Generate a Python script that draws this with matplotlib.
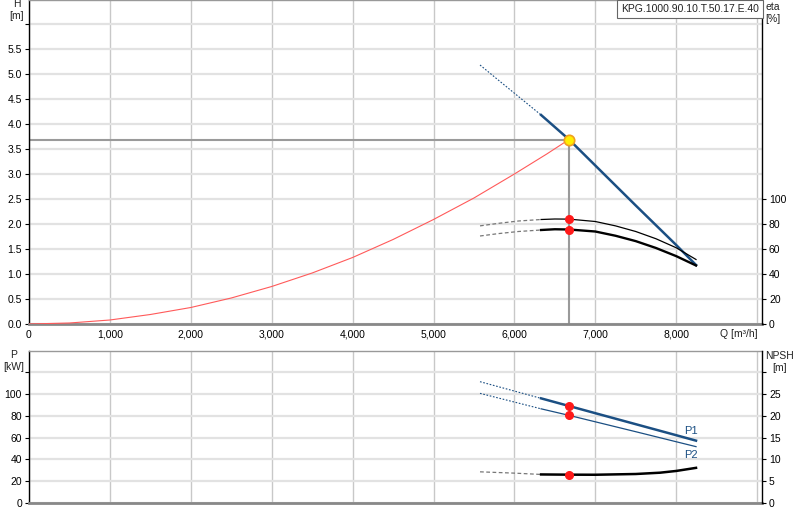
import numpy as np
import matplotlib
matplotlib.use('Agg')
import matplotlib.pyplot as plt

plt.rcParams['font.family'] = ['Liberation Sans', 'DejaVu Sans']

# duty point
q_duty = 6675
h_duty = 3.69

# system curve (red)
q_sys = [0, 500, 1000, 1500, 2000, 2500, 3000, 3500, 4000, 4500, 5000, 5500, 6000, 6400, 6675]
h_sys = [0, 0.02, 0.08, 0.19, 0.33, 0.52, 0.75, 1.02, 1.33, 1.69, 2.09, 2.52, 3.00, 3.40, 3.69]

# pump curve H, dashed part and operating part
q_dash = [5575, 5800, 6050, 6330]
h_dash = [5.18, 4.88, 4.55, 4.18]
q_op = [6330, 6675, 7000, 7500, 8000, 8245]
h_op = [4.18, 3.69, 3.17, 2.37, 1.58, 1.18]

# efficiency curves [%]
q_eta_dash = [5575, 5800, 6050, 6330]
eta1_dash = [78.5, 80.5, 82.4, 83.6]
eta2_dash = [70.4, 72.3, 74.0, 75.2]
q_eta_op = [6330, 6500, 6675, 7000, 7250, 7500, 7750, 8000, 8245]
eta1_op = [83.6, 84.0, 83.9, 82.0, 78.5, 74.0, 68.2, 61.0, 51.6]
eta2_op = [75.2, 75.8, 75.6, 74.0, 70.6, 66.3, 60.8, 54.3, 46.8]
eta1_duty = 83.9
eta2_duty = 75.6

# power [kW] and NPSH [m]
q_p_dash = [5575, 6330]
p1_dash = [111.3, 96.0]
p2_dash = [100.6, 86.4]
q_p_op = [6330, 6675, 7000, 7500, 8000, 8245]
p1_op = [96.0, 89.0, 82.4, 72.3, 62.2, 57.2]
p2_op = [86.4, 80.4, 74.5, 65.4, 56.2, 51.7]
p1_duty = 89.0
p2_duty = 80.4

q_npsh_dash = [5575, 6000, 6330]
npsh_dash = [7.15, 6.85, 6.55]
q_npsh_op = [6330, 6675, 7000, 7500, 7800, 8000, 8245]
npsh_op = [6.55, 6.50, 6.48, 6.65, 6.95, 7.35, 8.06]
npsh_duty = 6.5

x_ticks = [0, 1000, 2000, 3000, 4000, 5000, 6000, 7000, 8000, 9000]
x_labels = ['0', '1,000', '2,000', '3,000', '4,000', '5,000', '6,000', '7,000', '8,000', '']
h_ticks = [0, 0.5, 1.0, 1.5, 2.0, 2.5, 3.0, 3.5, 4.0, 4.5, 5.0, 5.5, 6.0]
eta_ticks = [0, 20, 40, 60, 80, 100]
p_ticks = [0, 20, 40, 60, 80, 100, 120]
npsh_ticks = [0, 5, 10, 15, 20, 25, 30]

blue = '#1b4f83'
W, H = 800, 520
fig = plt.figure(figsize=(8, 5.2), dpi=100)

x0, x1 = 29, 762
ax = fig.add_axes([x0 / W, (H - 324) / H, (x1 - x0) / W, 324 / H])
axb = fig.add_axes([x0 / W, (H - 503) / H, (x1 - x0) / W, (503 - 351) / H])
xmax = (x1 - x0) / 80.9 * 1000
h_max = 324 / 50.0
p_max = (503 - 351) / 1.09

def style(a, ymax, ticks, labels):
    a.set_xlim(0, xmax)
    a.set_ylim(0, ymax)
    a.set_xticks(x_ticks)
    a.set_yticks(ticks)
    a.set_yticklabels(labels)
    a.grid(axis='x', color='#c8c8c8', lw=1.0, zorder=0)
    a.grid(axis='y', color='#e2e2e2', lw=1.6, zorder=0)
    a.set_axisbelow(True)
    a.tick_params(axis='x', length=0, labelsize=7.5, pad=4)
    a.tick_params(axis='y', direction='out', length=3, width=0.8, labelsize=7.5, pad=2)
    a.spines['left'].set_color('black')
    a.spines['left'].set_linewidth(1.0)
    a.spines['bottom'].set_color('#888888')
    a.spines['bottom'].set_linewidth(2.0)
    a.spines['top'].set_color('#999999')
    a.spines['top'].set_linewidth(1.0)
    a.spines['right'].set_visible(False)

style(ax, h_max, h_ticks, ['%.1f' % v for v in h_ticks[:-1]] + [''])
ax.set_xticklabels(x_labels)
style(axb, p_max, p_ticks, [str(v) for v in p_ticks[:-1]] + [''])
axb.set_xticklabels([])

def twin(a, ymax, ticks, labels):
    t = a.twinx()
    t.set_ylim(0, ymax)
    t.set_yticks(ticks)
    t.set_yticklabels(labels)
    for s in ['left', 'top', 'bottom']:
        t.spines[s].set_visible(False)
    t.spines['right'].set_color('black')
    t.spines['right'].set_linewidth(1.0)
    t.tick_params(axis='y', direction='out', length=3, width=0.8, labelsize=7.5, pad=2)
    return t

ax_eta = twin(ax, h_max * 40, eta_ticks, [str(v) for v in eta_ticks])
ax_npsh = twin(axb, p_max / 4, npsh_ticks, [str(v) for v in npsh_ticks[:-1]] + [''])

# top panel
ax.plot([0, q_duty], [h_duty, h_duty], color='#9a9a9a', lw=1.5, zorder=2)
ax.plot([q_duty, q_duty], [0, h_duty], color='#9a9a9a', lw=1.5, zorder=2)
ax.plot(q_sys, h_sys, color='#ff5a5a', lw=0.8, zorder=3)
ax.plot(q_dash, h_dash, color=blue, lw=0.8, ls=(0, (1.5, 1.5)), zorder=3)
ax.plot(q_op, h_op, color=blue, lw=1.8, zorder=4)

ax_eta.plot(q_eta_dash, eta1_dash, color='#777777', lw=0.9, ls=(0, (3, 2)))
ax_eta.plot(q_eta_dash, eta2_dash, color='#777777', lw=0.9, ls=(0, (3, 2)))
ax_eta.plot(q_eta_op, eta1_op, color='black', lw=0.9)
ax_eta.plot(q_eta_op, eta2_op, color='black', lw=1.7)
ax_eta.plot([q_duty, q_duty], [eta1_duty, eta2_duty], 'o', color='#ff1a1a', ms=5.5, mec='#ff1a1a')
ax_eta.plot([q_duty], [h_duty * 40], 'o', color='#ffee00', ms=7.5, mec='#f0a020', mew=1.2, zorder=6)

# bottom panel
axb.plot(q_p_dash, p1_dash, color=blue, lw=0.8, ls=(0, (1.5, 1.5)))
axb.plot(q_p_dash, p2_dash, color=blue, lw=0.8, ls=(0, (1.5, 1.5)))
axb.plot(q_p_op, p1_op, color=blue, lw=1.8)
axb.plot(q_p_op, p2_op, color=blue, lw=0.9)
axb.plot([q_duty, q_duty], [p1_duty, p2_duty], 'o', color='#ff1a1a', ms=5.5)
axb.text(q_p_op[-1] - 60, p1_op[-1] + 4, 'P1', color=blue, fontsize=8, ha='center', va='bottom')
axb.text(q_p_op[-1] - 60, p2_op[-1] - 3, 'P2', color=blue, fontsize=8, ha='center', va='top')

ax_npsh.plot(q_npsh_dash, npsh_dash, color='#777777', lw=0.9, ls=(0, (3, 2)))
ax_npsh.plot(q_npsh_op, npsh_op, color='black', lw=1.8)
ax_npsh.plot([q_duty], [npsh_duty], 'o', color='#ff1a1a', ms=5.5)

# axis titles
def px(x, y):
    return x / W, 1 - y / H

tc = '#222222'
fig.text(*px(17, 10), 'H\n[m]', fontsize=7.5, ha='center', va='center', color=tc, linespacing=1.2)
fig.text(*px(14, 361), 'P\n[kW]', fontsize=7.5, ha='center', va='center', color=tc, linespacing=1.2)
fig.text(*px(773, 13), 'eta\n[%]', fontsize=7.5, ha='center', va='center', color=tc, linespacing=1.2)
fig.text(*px(780, 362), 'NPSH\n[m]', fontsize=7.5, ha='center', va='center', color=tc, linespacing=1.2)
fig.text(*px(739, 334), 'Q [m³/h]', fontsize=7.5, ha='center', va='center', color=tc)
fig.text(*px(690, 9), 'KPG.1000.90.10.T.50.17.E.40', fontsize=7.5, ha='center', va='center', color=tc,
         bbox=dict(boxstyle='square,pad=0.35', fc='white', ec='#666666', lw=0.8))

fig.savefig('out.png', dpi=100)
